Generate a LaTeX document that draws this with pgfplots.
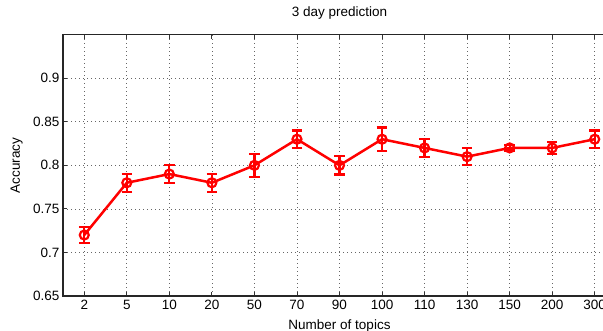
\documentclass[border=0pt]{standalone}
\usepackage{pgfplots}
\pgfplotsset{compat=1.18}
\usepackage{fontspec}
\setmainfont{Liberation Sans}
\begin{document}
\begin{tikzpicture}
\useasboundingbox (0pt,0pt) rectangle (603pt,331pt);
\clip (0pt,0pt) rectangle (603pt,331pt);
\begin{axis}[
  at={(63pt,35pt)}, anchor=south west,
  scale only axis, width=553pt, height=261.3pt,
  xmin=-0.5, xmax=12.5, ymin=0.65, ymax=0.95,
  xtick={0,1,2,3,4,5,6,7,8,9,10,11,12},
  xticklabels={2,5,10,20,50,70,90,100,110,130,150,200,300},
  ytick={0.65,0.7,0.75,0.8,0.85,0.9},
  yticklabels={0.65,0.7,0.75,0.8,0.85,0.9},
  /pgf/number format/assume math mode=true,
  tick label style={font=\fontsize{13.5}{15}\selectfont},
  tick align=inside, major tick length=4pt,
  tick style={black!80, line width=0.8pt},
  axis line style={black!85, line width=1.3pt},
  grid=major,
  major grid style={black!60, line width=0.7pt, dash pattern=on 0.8pt off 3.2pt},
  title={3 day prediction},
  title style={at={(axis description cs:0.5,1.06)}, anchor=center, font=\fontsize{13.5}{15}\selectfont},
  xlabel={Number of topics},
  xlabel style={at={(axis description cs:0.5,-0.115)}, anchor=center, font=\fontsize{13.5}{15}\selectfont},
  ylabel={Accuracy},
  ylabel style={at={(axis description cs:-0.084,0.5)}, anchor=center, font=\fontsize{13.5}{15}\selectfont},
  xticklabel style={yshift=-1pt},
]
\addplot[red, line width=2.5pt, mark=o, mark size=4.5pt,
  mark options={line width=2.2pt, solid},
  error bars/.cd, y dir=both, y explicit,
  error bar style={line width=2.2pt, red},
  error mark options={rotate=90, mark size=5.3pt, line width=2.2pt, red}]
coordinates {
(0,0.72) +- (0,0.0095)
(1,0.78) +- (0,0.0105)
(2,0.79) +- (0,0.010)
(3,0.78) +- (0,0.0105)
(4,0.80) +- (0,0.013)
(5,0.83) +- (0,0.010)
(6,0.80) +- (0,0.0105)
(7,0.83) +- (0,0.0134)
(8,0.82) +- (0,0.010)
(9,0.81) +- (0,0.010)
(10,0.82) +- (0,0.003)
(11,0.82) +- (0,0.007)
(12,0.83) +- (0,0.010)
};
\end{axis}
\end{tikzpicture}
\end{document}
